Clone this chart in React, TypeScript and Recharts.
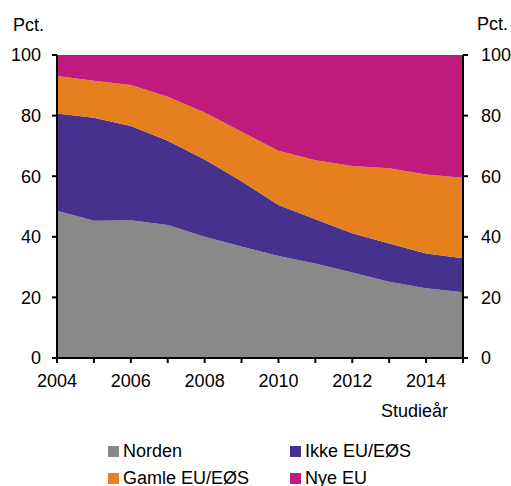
import React from 'react';
import { AreaChart, Area, XAxis, YAxis } from 'recharts';

const years = [2004, 2005, 2006, 2007, 2008, 2009, 2010, 2011, 2012, 2013, 2014, 2015];
const norden = [48.6, 45.3, 45.5, 43.9, 40.0, 36.8, 33.7, 31.2, 28.2, 25.2, 23.0, 21.7];
const ikkeEU = [32.1, 34.0, 31.1, 27.8, 25.5, 21.5, 16.8, 14.6, 13.0, 12.6, 11.5, 11.2];
const gamleEU = [12.4, 12.2, 13.5, 14.5, 15.5, 16.4, 17.9, 19.5, 22.2, 24.8, 26.1, 26.6];
const nyeEU = [6.9, 8.5, 9.9, 13.8, 19.0, 25.3, 31.6, 34.7, 36.6, 37.4, 39.4, 40.5];
const yTicks = [0, 20, 40, 60, 80, 100];

const seriesNames = ['Norden', 'Ikke EU/EØS', 'Gamle EU/EØS', 'Nye EU'];
const colors = ['#898989', '#46328C', '#E6801E', '#BE1B7D'];

const data = years.map((year, i) => ({
  year,
  norden: norden[i],
  ikke: ikkeEU[i],
  gamle: gamleEU[i],
  nye: nyeEU[i],
}));

const FONT = '"Liberation Sans", Arial, sans-serif';
const tickStyle = { fill: '#000', fontSize: 18, fontFamily: FONT };

export default function App() {
  const legendItems = [
    { name: seriesNames[0], color: colors[0], x: 108, y: 446 },
    { name: seriesNames[1], color: colors[1], x: 290, y: 446 },
    { name: seriesNames[2], color: colors[2], x: 108, y: 473 },
    { name: seriesNames[3], color: colors[3], x: 290, y: 473 },
  ];
  return (
    <div style={{ position: 'fixed', left: 0, top: 0, width: 511, height: 486, fontFamily: FONT, background: '#fff' }}>
      <AreaChart
        width={511}
        height={486}
        data={data}
        margin={{ top: 55, right: 0, bottom: 88, left: 0 }}
      >
        <Area yAxisId="left" type="linear" dataKey="norden" stackId="1" stroke="none" fill={colors[0]} fillOpacity={1} isAnimationActive={false} />
        <Area yAxisId="left" type="linear" dataKey="ikke" stackId="1" stroke="none" fill={colors[1]} fillOpacity={1} isAnimationActive={false} />
        <Area yAxisId="left" type="linear" dataKey="gamle" stackId="1" stroke="none" fill={colors[2]} fillOpacity={1} isAnimationActive={false} />
        <Area yAxisId="left" type="linear" dataKey="nye" stackId="1" stroke="none" fill={colors[3]} fillOpacity={1} isAnimationActive={false} />
        <Area yAxisId="right" type="linear" dataKey="nye" stroke="none" fill="none" fillOpacity={0} isAnimationActive={false} legendType="none" />
        <XAxis
          dataKey="year"
          type="number"
          domain={[2004, 2015]}
          ticks={years}
          interval={0}
          tickFormatter={(v: number) => (v % 2 === 0 ? String(v) : '')}
          height={40}
          tickSize={5}
          tickMargin={11}
          axisLine={{ stroke: '#000', strokeWidth: 2 }}
          tickLine={{ stroke: '#000', strokeWidth: 2 }}
          tick={tickStyle}
        />
        <YAxis
          yAxisId="left"
          orientation="left"
          domain={[0, 100]}
          ticks={yTicks}
          interval={0}
          width={57}
          tickSize={5}
          tickMargin={11}
          axisLine={{ stroke: '#000', strokeWidth: 2 }}
          tickLine={{ stroke: '#000', strokeWidth: 2 }}
          tick={tickStyle}
        />
        <YAxis
          yAxisId="right"
          orientation="right"
          domain={[0, 100]}
          ticks={yTicks}
          interval={0}
          allowDataOverflow
          width={48}
          tickSize={5}
          tickMargin={13}
          axisLine={{ stroke: '#000', strokeWidth: 2 }}
          tickLine={{ stroke: '#000', strokeWidth: 2 }}
          tick={tickStyle}
        />
      </AreaChart>
      <svg
        width={511}
        height={486}
        style={{ position: 'absolute', left: 0, top: 0, pointerEvents: 'none' }}
      >
        <text x={13} y={31} fontSize={18} fontFamily={FONT} fill="#000">Pct.</text>
        <text x={477} y={30} fontSize={18} fontFamily={FONT} fill="#000">Pct.</text>
        <text x={381} y={417} fontSize={18} fontFamily={FONT} fill="#000">Studieår</text>
        {legendItems.map((it) => (
          <g key={it.name}>
            <rect x={it.x} y={it.y} width={11} height={11} fill={it.color} />
            <text x={it.x + 15} y={it.y + 11.3} fontSize={18} fontFamily={FONT} fill="#000">{it.name}</text>
          </g>
        ))}
      </svg>
    </div>
  );
}
